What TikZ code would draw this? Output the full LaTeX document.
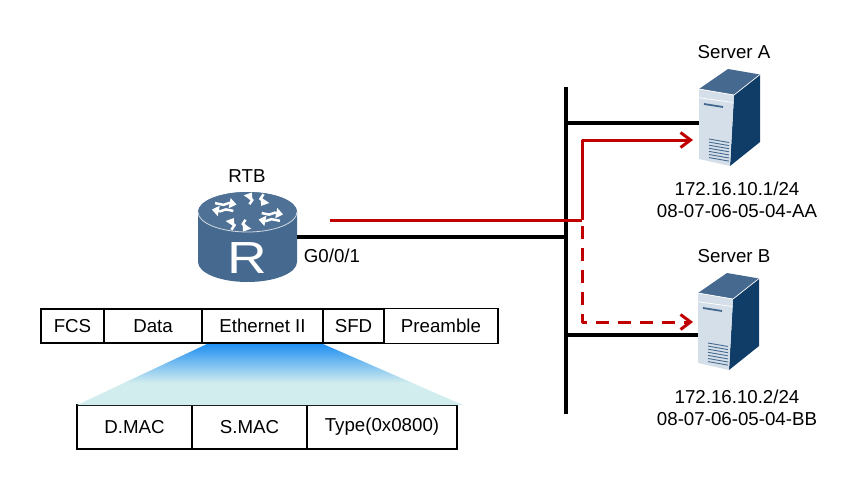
\documentclass[tikz,border=0pt]{standalone}
\usepackage{fontspec}
\setmainfont{Liberation Sans}
\usetikzlibrary{arrows.meta}
\usetikzlibrary{positioning}

\definecolor{netred}{HTML}{C00000}
\definecolor{iconblue}{HTML}{466A8F}
\definecolor{icondark}{HTML}{0F3D68}
\definecolor{iconpale}{HTML}{D5DFE9}
\definecolor{fadetop}{HTML}{2090F2}
\definecolor{fadelow}{HTML}{D2EDEE}

\pgfdeclareverticalshading{framefade}{100bp}{color(0bp)=(fadelow); color(25bp)=(fadelow); color(43bp)=(fadelow); color(75bp)=(fadetop); color(100bp)=(fadetop)}

\tikzset{
    bus/.style={line width=3.8pt,black},
    flow/.style={line width=3pt,netred,line join=round,-{Straight Barb[length=10pt,width=15pt]}},
    lbl/.style={font=\fontsize{18.7}{22}\selectfont,inner sep=0pt,align=center},
    cell/.style={draw,line width=1.1pt,outer sep=0pt,inner sep=0pt,minimum height=#1,font=\fontsize{18.7}{22}\selectfont},
    holder/.style={inner sep=0pt,outer sep=0pt,minimum width=#1},
    pics/servericon/.style={code={
        % drawn from the top left corner of the front face
        \fill[iconblue] (0,0) -- (29,-20) -- (61,-14.5) -- (35,6) -- cycle;
        \fill[icondark] (35,6) -- (61,-14.5) -- (61,53) -- (31,77) -- cycle;
        \fill[iconpale] (0,0) -- (35,6) -- (31,77) -- (0,70) -- cycle;
        \draw[white,line width=.7pt] (0,0) -- (35,6) -- (61,-14.5);
        \draw[white,line width=.7pt] (0,8.7) -- (34,13.5);
        \draw[iconblue,line width=1.8pt] (5,15) -- (24,18);
        \foreach \i in {0,...,6}
            \draw[iconblue,line width=.9pt] (10,50+\i*3.1) -- (30,53.5+\i*3.1);
    }},
    pics/routericon/.style={code={
        % drawn from the centre of the top ellipse
        \fill[iconblue] (-49.5,0) -- (-49.5,50) arc[start angle=180,end angle=360,x radius=49.5,y radius=-20]
            -- (49.5,0) arc[start angle=0,end angle=180,x radius=49.5,y radius=-20] -- cycle;
        \fill[iconblue!95!white] (0,0) ellipse[x radius=49.5,y radius=20];
        \draw[white!75!iconblue,line width=.8pt] (-49.5,0) arc[start angle=180,end angle=360,x radius=49.5,y radius=-20];
        \foreach \ang in {-110,-20,70,160} {
            \begin{scope}[yscale=.55,rotate=\ang,white,line width=2.5pt,-{Triangle[length=7pt,width=10pt]}]
                \draw (14,-3) -- (22,-3) -- (26,-8) -- (35,-8);
                \draw (36,4) -- (27,4) -- (23,9) -- (15,9);
            \end{scope}
        }
        \node[white,inner sep=0pt,xscale=1.22,font=\fontsize{45}{45}\selectfont] (-glyph) at (0,46) {R};
    }}
}

\begin{document}
\begin{tikzpicture}[x=1pt,y=-1pt]
    \useasboundingbox (0,0) rectangle (858,492);

    % devices
    \node[holder=99pt,minimum height=90pt] (rtb) at (247.5,237) {};
    \pic at (247.5,212) {routericon};
    \node[holder=61pt,minimum height=97pt] (srva) at (729.5,117.5) {};
    \pic at (699,89) {servericon};
    \node[holder=61pt,minimum height=97pt] (srvb) at (728.5,321.5) {};
    \pic at (698,293) {servericon};

    % labels
    \node[lbl] (rtbname) at (247,176) {RTB};
    \node[lbl] (rtbport) at (332,256) {G0/0/1};
    \node[lbl] (srvaname) at (734,52) {Server A};
    \node[lbl] (srvaaddr) at (737,200) {172.16.10.1/24\\08-07-06-05-04-AA};
    \node[lbl] (srvbname) at (734,256) {Server B};
    \node[lbl] (srvbaddr) at (737,408) {172.16.10.2/24\\08-07-06-05-04-BB};

    % segment
    \coordinate (bustop) at (566,87);
    \coordinate (busbot) at (566,414);
    \coordinate (busa) at (566,123);
    \coordinate (busb) at (566,335);
    \draw[bus] (bustop) -- (busbot);
    \draw[bus] (rtb.east) -- (rtb.east -| bustop);
    \draw[bus] (busa) -- (busa -| srva.west);
    \draw[bus] (busb) -- (busb -| srvb.west);

    % frame path
    \coordinate (redstart) at (330,220);
    \coordinate (split) at (582,220);
    \coordinate (tipa) at (693,140);
    \coordinate (tipb) at (693,322);
    \draw[flow,-] (redstart) -- (split);
    \draw[flow] (split) |- (tipa);
    \draw[flow,dash pattern=on 13pt off 9pt] (split) ++(0,6) |- (tipb);

    % frame
    \node[cell=34pt,minimum width=63pt] (fcs) at (72.5,326) {FCS};
    \node[cell=34pt,minimum width=98pt,right=0pt of fcs] (data) {Data};
    \node[cell=34pt,minimum width=121pt,right=0pt of data] (eth) {Ethernet II};
    \node[cell=34pt,minimum width=61pt,right=0pt of eth] (sfd) {SFD};
    \node[cell=35pt,minimum width=114pt,right=0pt of sfd] (pre) {Preamble};

    % header
    \node[cell=44pt,minimum width=115pt] (dmac) at (134.5,427) {D.MAC};
    \node[cell=44pt,minimum width=115pt,right=0pt of dmac] (smac) {S.MAC};
    \node[cell=44pt,minimum width=150pt,right=0pt of smac] (ethtype) {Type(0x0800)};

    \shade[shading=framefade] ([xshift=5pt,yshift=-1pt]eth.south west) -- ([yshift=-1pt]eth.south east)
        -- ([xshift=6pt]ethtype.north east) -- (dmac.north west) -- cycle;
\end{tikzpicture}
\end{document}
